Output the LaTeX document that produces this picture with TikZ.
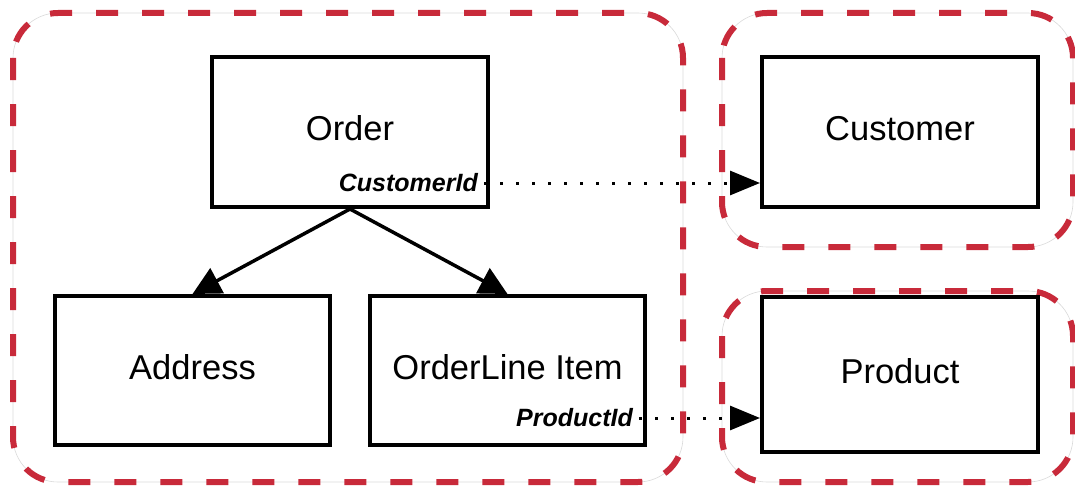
\documentclass[tikz,border=0pt]{standalone}
\usepackage{fontspec}
\setmainfont{Liberation Sans}
\usetikzlibrary{positioning,arrows.meta}
\definecolor{bctx}{RGB}{200,42,58}
\tikzset{ent/.style={rectangle,draw,line width=4pt,minimum width=276pt,minimum height=150pt,inner sep=0pt,text height=25pt,text depth=8pt,font=\fontsize{34.5}{40}\selectfont},
	 fkey/.style={anchor=east,inner sep=0pt,font=\fontsize{25}{30}\selectfont\bfseries\itshape},
	 bctxline/.style={draw=bctx,line width=6pt,dash pattern=on 22pt off 24pt,rounded corners=45pt},
	 bctxedge/.style={draw=black!15,line width=0.6pt,rounded corners=45pt},
	 has/.style={line width=3.5pt,-{Triangle[length=28pt,width=28pt]}},
	 refs/.style={line width=3pt,dash pattern=on 3pt off 13pt,-{Triangle[length=30pt,width=24pt]}}
	 }
\begin{document}
\begin{tikzpicture}[x=1pt,y=-1pt] % order aggregate and references
        \useasboundingbox (0,0) rectangle (1075,487);
        \draw[bctxedge] (13,13) rectangle (683,482);
        \draw[bctxedge] (722,13) rectangle (1073,247);
        \draw[bctxedge] (722,291) rectangle (1073,482);
        \draw[bctxline] (13,13) rectangle (683,482);
        \draw[bctxline] (722,13) rectangle (1073,247);
        \draw[bctxline] (722,291) rectangle (1073,482);
        \node[ent] (order) at (350,132) {Order};
        \node[ent] (customer) at (900,132) {Customer};
        \node[ent,minimum width=275pt,minimum height=149pt] (address) at (192.5,370.5) {Address};
        \node[ent,minimum width=275pt,minimum height=149pt] (orderline) at (507.5,370.5) {OrderLine Item};
        \node[ent,minimum height=155pt] (product) at (900,374.5) {Product};
        \node[fkey] (custid) at (478,183) {CustomerId};
        \node[fkey] (prodid) at (633,418) {ProductId};
        \draw[has] (order.south) to (address.north);
        \draw[has] (order.south) to (orderline.north);
        \draw[refs] (custid.east) ++(6,0) to (custid.east -| customer.west);
        \draw[refs] (prodid.east) ++(6,0) to (prodid.east -| product.west);
     \end{tikzpicture}
\end{document}
